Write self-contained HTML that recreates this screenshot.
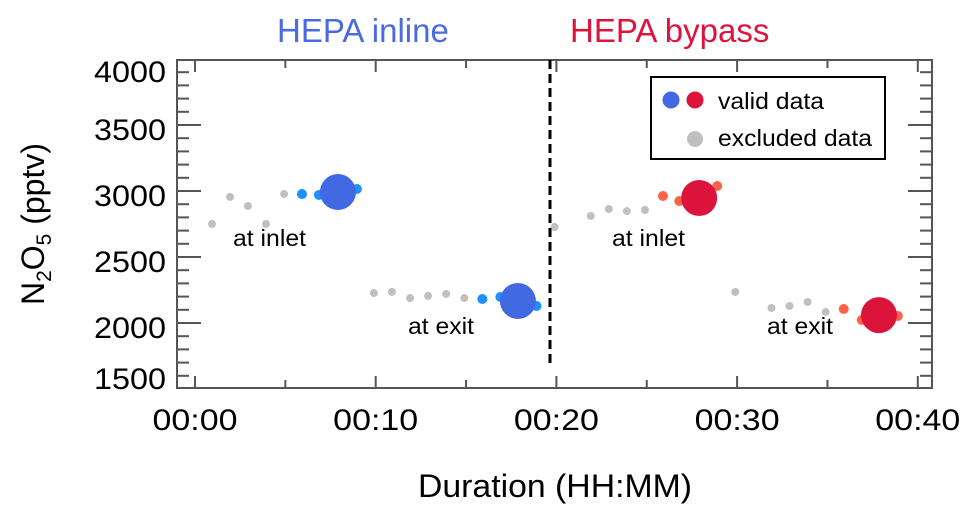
<!DOCTYPE html>
<html><head><meta charset="utf-8"><style>
body{margin:0;background:#fff}
svg{display:block;font-family:"Liberation Sans",Arial,sans-serif}
</style></head><body>
<svg id="c" width="970" height="514">
<text x="277" y="42" font-size="33" fill="#4a6be0">HEPA inline</text>
<text x="570" y="42" font-size="33" fill="#dc143c">HEPA bypass</text>
<g id="axes"></g>
<g id="marks"></g>
<line x1="550" y1="60" x2="550" y2="368" stroke="#000" stroke-width="3" stroke-dasharray="9,5"/>
<g>
<rect x="651" y="77" width="234" height="82" fill="#fff" stroke="#000" stroke-width="2"/>
<circle cx="671" cy="100" r="8.5" fill="#4169e1"/>
<circle cx="695" cy="100" r="8.5" fill="#dc143c"/>
<circle cx="695" cy="139" r="8" fill="#c0c0c0"/>
<text x="718" y="109" font-size="23" textLength="106" lengthAdjust="spacingAndGlyphs">valid data</text>
<text x="718" y="146" font-size="23" textLength="154" lengthAdjust="spacingAndGlyphs">excluded data</text>
</g>
<text x="233" y="246" font-size="23" textLength="73" lengthAdjust="spacingAndGlyphs">at inlet</text>
<text x="408" y="334" font-size="23" textLength="66" lengthAdjust="spacingAndGlyphs">at exit</text>
<text x="612" y="246" font-size="23" textLength="73" lengthAdjust="spacingAndGlyphs">at inlet</text>
<text x="767" y="334" font-size="23" textLength="66" lengthAdjust="spacingAndGlyphs">at exit</text>
<text x="418" y="497" font-size="32" textLength="274" lengthAdjust="spacingAndGlyphs">Duration (HH:MM)</text>
<text transform="translate(44,224) rotate(-90)" text-anchor="middle" font-size="32">N<tspan font-size="21" dy="7">2</tspan><tspan dy="-7">O</tspan><tspan font-size="21" dy="7">5</tspan><tspan dy="-7"> (pptv)</tspan></text>
</svg>
<script>
const xTicks=[0,10,20,30,40];
const xTickLabels=["00:00","00:10","00:20","00:30","00:40"];
const yTicks=[1500,2000,2500,3000,3500,4000];
const greyT=[0.94,1.94,2.93,3.93,4.93,9.9,10.9,11.9,12.9,13.9,14.9,19.9,21.9,22.9,23.9,24.9,29.9,31.9,32.9,33.9,34.9];
const greyV=[2750,2955,2886,2750,2977,2227,2235,2189,2205,2220,2189,2727,2811,2864,2848,2856,2235,2114,2129,2159,2083];
const blueSmallT=[5.92,6.86,8.96,15.9,16.9,18.9];
const blueSmallV=[2977,2970,3015,2182,2197,2129];
const blueBigT=[7.91,17.87];
const blueBigV=[2992,2167];
const redSmallT=[25.9,26.8,28.9,35.9,36.9,38.9];
const redSmallV=[2962,2924,3038,2106,2023,2053];
const redBigT=[27.9,37.85];
const redBigV=[2947,2060];
const NS="http://www.w3.org/2000/svg";
const L=177,R=932,T=60,B=388;
const X=t=>195+t*18.07;
const Y=v=>191+(3000-v)*0.132;
function mk(tag,attrs,parent){const e=document.createElementNS(NS,tag);for(const k in attrs)e.setAttribute(k,attrs[k]);parent.appendChild(e);return e;}
const ax=document.getElementById('axes'),mg=document.getElementById('marks');
const fr=mk('rect',{x:L,y:T,width:R-L,height:B-T,fill:'none',stroke:'#555','stroke-width':2},ax);


for(let m=0;m<=40;m+=5){const x=X(m),len=m%10===0?12:8;
 mk('line',{x1:x,y1:B,x2:x,y2:B-len,stroke:'#555','stroke-width':2},ax);
 mk('line',{x1:x,y1:T,x2:x,y2:T+len,stroke:'#555','stroke-width':2},ax);}
for(let v=1500;v<=4000;v+=100){const y=Y(v);if(y<T||y>B)continue;const len=v%500===0?24:12;
 mk('line',{x1:L,y1:y,x2:L+len,y2:y,stroke:'#555','stroke-width':2},ax);
 mk('line',{x1:R,y1:y,x2:R-len,y2:y,stroke:'#555','stroke-width':2},ax);}
xTicks.forEach((t,i)=>{const e=mk('text',{x:X(t),y:430,'text-anchor':'middle','font-size':30,textLength:85,lengthAdjust:'spacingAndGlyphs'},ax);e.textContent=xTickLabels[i];
 
 });
yTicks.forEach(v=>{let y=Y(v)+15;y=Math.min(Math.max(y,82),389);const e=mk('text',{x:166,y:y,'text-anchor':'end','font-size':30,textLength:72,lengthAdjust:'spacingAndGlyphs'},ax);e.textContent=v;
 
 });
function pts(ts,vs,r,col,name){ts.forEach((t,i)=>{const c=mk('circle',{cx:X(t),cy:Y(vs[i]),r:r,fill:col},mg);
 
 });}
pts(greyT,greyV,4,'#c0c0c0','excluded-point');
pts(blueSmallT,blueSmallV,5,'#1e90ff','blue-small-point');
pts(redSmallT,redSmallV,5,'#ff6347','red-small-point');
pts(blueBigT,blueBigV,18,'#4169e1','blue-mean-point');
pts(redBigT,redBigV,18,'#dc143c','red-mean-point');
</script>
</body></html>
